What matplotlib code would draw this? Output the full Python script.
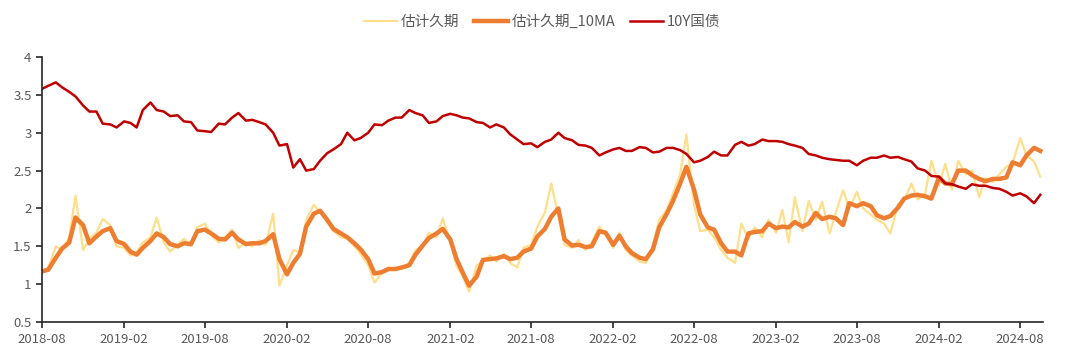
import pandas as pd
import matplotlib
matplotlib.use("Agg")
import matplotlib.pyplot as plt
import matplotlib.dates as mdates

plt.rcParams['font.family'] = ['Noto Sans CJK SC', 'DejaVu Sans']

# semi-monthly observations, 2018-08-01 .. 2024-09-15
dates = pd.date_range('2018-08-01', periods=148, freq='SMS')

est_duration = [
    1.15, 1.22, 1.50, 1.45, 1.62, 2.17, 1.45, 1.60, 1.68, 1.86, 1.78, 1.50,
    1.48, 1.38, 1.42, 1.55, 1.62, 1.88, 1.55, 1.43, 1.52, 1.60, 1.50, 1.75,
    1.80, 1.65, 1.55, 1.62, 1.72, 1.48, 1.55, 1.50, 1.58, 1.52, 1.93, 0.98,
    1.25, 1.45, 1.42, 1.85, 2.05, 1.95, 1.82, 1.70, 1.62, 1.60, 1.50, 1.40,
    1.25, 1.02, 1.15, 1.18, 1.22, 1.20, 1.28, 1.45, 1.50, 1.68, 1.62, 1.87,
    1.55, 1.24, 1.10, 0.90, 1.25, 1.30, 1.38, 1.30, 1.40, 1.28, 1.22, 1.48,
    1.52, 1.76, 1.95, 2.33, 1.90, 1.52, 1.48, 1.58, 1.45, 1.55, 1.76, 1.65,
    1.48, 1.68, 1.45, 1.38, 1.30, 1.28, 1.52, 1.85, 1.98, 2.20, 2.45, 2.98,
    2.05, 1.70, 1.72, 1.62, 1.45, 1.35, 1.28, 1.80, 1.60, 1.75, 1.62, 1.85,
    1.68, 1.98, 1.55, 2.15, 1.70, 2.10, 1.85, 2.09, 1.67, 1.95, 2.24, 2.00,
    2.22, 2.00, 1.92, 1.85, 1.80, 1.67, 2.05, 2.10, 2.33, 2.12, 2.20, 2.63,
    2.30, 2.59, 2.25, 2.63, 2.45, 2.50, 2.15, 2.40, 2.35, 2.45, 2.55, 2.60,
    2.93, 2.70, 2.62, 2.42,
]

est_duration_10ma = [
    1.17, 1.19, 1.35, 1.47, 1.55, 1.88, 1.78, 1.54, 1.63, 1.70, 1.74, 1.57,
    1.53, 1.43, 1.39, 1.48, 1.57, 1.67, 1.62, 1.53, 1.50, 1.54, 1.53, 1.70,
    1.72, 1.67, 1.60, 1.59, 1.68, 1.59, 1.53, 1.54, 1.54, 1.57, 1.66, 1.33,
    1.13, 1.28, 1.40, 1.76, 1.93, 1.97, 1.85, 1.73, 1.67, 1.62, 1.54, 1.46,
    1.33, 1.14, 1.16, 1.20, 1.20, 1.22, 1.25, 1.39, 1.51, 1.61, 1.67, 1.73,
    1.59, 1.33, 1.15, 0.98, 1.10, 1.32, 1.33, 1.34, 1.37, 1.33, 1.35, 1.43,
    1.47, 1.63, 1.73, 1.89, 2.00, 1.59, 1.51, 1.52, 1.49, 1.50, 1.70, 1.68,
    1.52, 1.64, 1.50, 1.41, 1.35, 1.33, 1.46, 1.75, 1.93, 2.10, 2.33, 2.55,
    2.25, 1.92, 1.75, 1.72, 1.54, 1.43, 1.43, 1.38, 1.67, 1.69, 1.70, 1.80,
    1.74, 1.76, 1.75, 1.82, 1.76, 1.80, 1.94, 1.86, 1.89, 1.87, 1.78, 2.07,
    2.03, 2.07, 2.03, 1.91, 1.87, 1.90, 2.01, 2.13, 2.17, 2.18, 2.16, 2.13,
    2.41, 2.33, 2.32, 2.50, 2.50, 2.44, 2.39, 2.36, 2.39, 2.39, 2.41, 2.61,
    2.57, 2.70, 2.80, 2.76,
]

cgb_10y = [
    3.58, 3.62, 3.665, 3.60, 3.54, 3.48, 3.36, 3.28, 3.28, 3.12, 3.11, 3.07,
    3.15, 3.13, 3.07, 3.30, 3.40, 3.30, 3.28, 3.22, 3.23, 3.15, 3.14, 3.03,
    3.02, 3.01, 3.12, 3.11, 3.20, 3.26, 3.16, 3.17, 3.14, 3.11, 3.00, 2.83,
    2.85, 2.54, 2.65, 2.50, 2.52, 2.63, 2.73, 2.78, 2.85, 3.00, 2.90, 2.93,
    3.00, 3.11, 3.10, 3.16, 3.20, 3.20, 3.30, 3.26, 3.23, 3.13, 3.15, 3.22,
    3.25, 3.23, 3.20, 3.19, 3.14, 3.13, 3.07, 3.11, 3.07, 2.98, 2.91, 2.85,
    2.86, 2.81, 2.88, 2.91, 3.00, 2.93, 2.90, 2.84, 2.83, 2.80, 2.70, 2.74,
    2.78, 2.80, 2.76, 2.76, 2.81, 2.80, 2.74, 2.75, 2.80, 2.80, 2.77, 2.72,
    2.61, 2.63, 2.68, 2.75, 2.70, 2.70, 2.84, 2.88, 2.83, 2.85, 2.91, 2.89,
    2.89, 2.88, 2.85, 2.83, 2.80, 2.72, 2.70, 2.67, 2.65, 2.64, 2.63, 2.63,
    2.57, 2.63, 2.67, 2.67, 2.70, 2.67, 2.68, 2.65, 2.62, 2.53, 2.50, 2.43,
    2.42, 2.33, 2.32, 2.29, 2.26, 2.32, 2.30, 2.30, 2.27, 2.26, 2.22, 2.17,
    2.20, 2.16, 2.07, 2.18,
]

tick_dates = pd.date_range('2018-08-01', '2024-08-01', freq='6MS')

fig = plt.figure(figsize=(10.8, 3.61), dpi=100)
ax = fig.add_axes([0.0389, 0.108, 0.9268, 0.734])

l1, = ax.plot(dates, est_duration, color='#FFDF8C', lw=1.6, label='估计久期')
l2, = ax.plot(dates, est_duration_10ma, color='#ED7D31', lw=3.2, label='估计久期_10MA')
l3, = ax.plot(dates, cgb_10y, color='#C00000', lw=1.8, label='10Y国债')

ax.set_ylim(0.5, 4)
ax.set_yticks([0.5, 1, 1.5, 2, 2.5, 3, 3.5, 4])
ax.set_yticklabels(['0.5', '1', '1.5', '2', '2.5', '3', '3.5', '4'])
ax.set_xlim(pd.Timestamp('2018-08-01'), pd.Timestamp('2024-09-21'))
ax.set_xticks(tick_dates)
ax.xaxis.set_major_formatter(mdates.DateFormatter('%Y-%m'))

for side in ['top', 'right']:
    ax.spines[side].set_visible(False)
for side in ['left', 'bottom']:
    ax.spines[side].set_color('#262626')
    ax.spines[side].set_linewidth(1.2)
ax.tick_params(axis='both', direction='out', length=4, width=1.2,
               color='#262626', labelcolor='#595959', labelsize=9.5)
ax.tick_params(axis='x', pad=4)

fig.legend(handles=[l1, l2, l3], loc='center', bbox_to_anchor=(0.502, 0.939),
           ncol=3, frameon=False, fontsize=10.5, labelcolor='#595959',
           handlelength=2.3, handletextpad=0.25, columnspacing=1.0)

plt.savefig('out.png', dpi=100)
